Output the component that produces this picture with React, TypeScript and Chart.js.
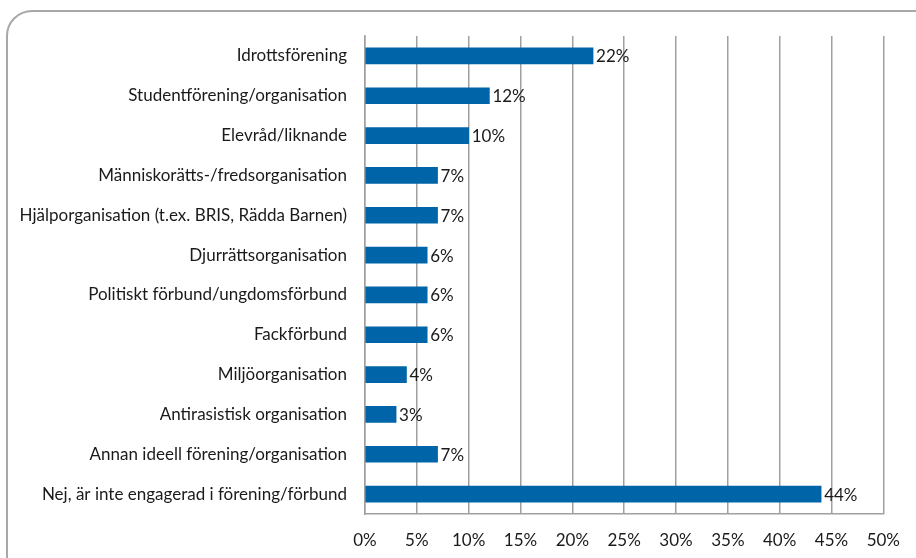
import React, { useEffect, useRef } from "react";
import { Chart, registerables } from "chart.js";

Chart.register(...registerables);

const categories = [
  "Idrottsförening",
  "Studentförening/organisation",
  "Elevråd/liknande",
  "Människorätts-/fredsorganisation",
  "Hjälporganisation (t.ex. BRIS, Rädda Barnen)",
  "Djurrättsorganisation",
  "Politiskt förbund/ungdomsförbund",
  "Fackförbund",
  "Miljöorganisation",
  "Antirasistisk organisation",
  "Annan ideell förening/organisation",
  "Nej, är inte engagerad i förening/förbund",
];
const values = [22, 12, 10, 7, 7, 6, 6, 6, 4, 3, 7, 44];
const valueLabels = ["22%", "12%", "10%", "7%", "7%", "6%", "6%", "6%", "4%", "3%", "7%", "44%"];

const FONT = "Lato, sans-serif";
const SIZE = 17;

const labelPlugin = {
  id: "barLabels",
  afterDatasetsDraw(chart: any) {
    const ctx = chart.ctx;
    const meta = chart.getDatasetMeta(0);
    ctx.save();
    ctx.font = `${SIZE}px ${FONT}`;
    ctx.fillStyle = "#1a1a1a";
    ctx.textAlign = "left";
    ctx.textBaseline = "middle";
    meta.data.forEach((bar: any, i: number) => {
      ctx.fillText(valueLabels[i], bar.x + 3, bar.y + 1);
    });
    ctx.restore();
  },
};

export default function App() {
  const ref = useRef<HTMLCanvasElement>(null);
  useEffect(() => {
    if (!ref.current) return;
    const chart = new Chart(ref.current, {
      type: "bar",
      data: {
        labels: categories,
        datasets: [
          {
            data: values,
            backgroundColor: "#0065A8",
            barThickness: 16,
          },
        ],
      },
      options: {
        indexAxis: "y",
        animation: false,
        responsive: false,
        maintainAspectRatio: false,
        layout: { padding: { top: 36, right: 30, left: 0, bottom: 0 } },
        plugins: { legend: { display: false }, tooltip: { enabled: false } },
        scales: {
          x: {
            min: 0,
            max: 50,
            grid: { color: "#a0a0a0", lineWidth: 1.5, drawTicks: false },
            border: { display: true, color: "#a0a0a0", width: 1.5 },
            ticks: {
              stepSize: 5,
              padding: 16,
              color: "#1a1a1a",
              font: { family: FONT, size: SIZE },
              callback: (v: any) => v + "%",
            },
            afterFit: (s: any) => {
              s.height = 44;
            },
          },
          y: {
            grid: { display: false, drawTicks: false },
            border: { display: true, color: "#a0a0a0", width: 1.5 },
            ticks: {
              padding: 18,
              color: "#1a1a1a",
              font: { family: FONT, size: SIZE },
            },
            afterFit: (s: any) => {
              s.width = 365;
            },
          },
        },
      },
      plugins: [labelPlugin],
    });
    return () => chart.destroy();
  }, []);
  return (
    <div style={{ position: "fixed", left: 0, top: 0, width: 916, height: 558, overflow: "hidden", background: "#fff" }}>
      <div
        style={{
          position: "absolute",
          left: 6,
          top: 10,
          width: 940,
          height: 580,
          border: "2px solid #a8a8a8",
          borderRadius: 26,
          boxSizing: "border-box",
        }}
      />
      <canvas ref={ref} width={916} height={558} style={{ position: "absolute", left: 0, top: 0 }} />
    </div>
  );
}
